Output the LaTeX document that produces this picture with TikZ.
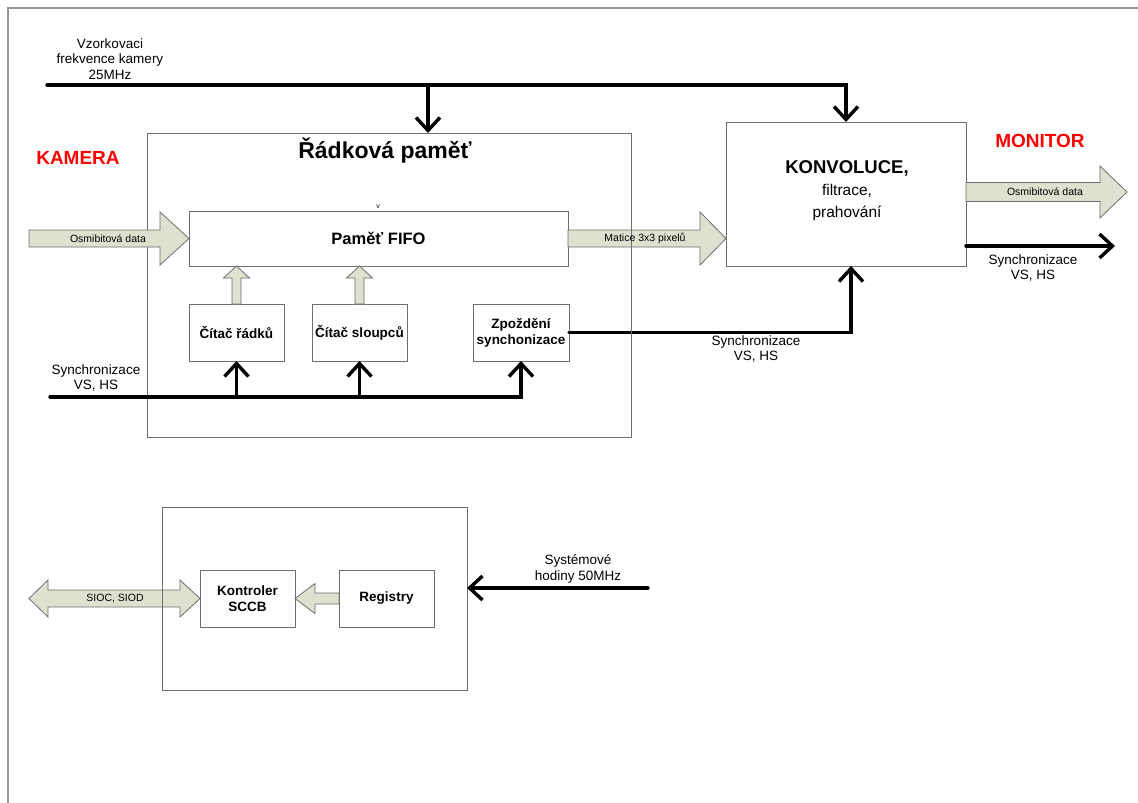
\documentclass[tikz,border=0pt]{standalone}
\usepackage{fontspec}
\setmainfont{Liberation Sans}
\usetikzlibrary{arrows.meta,calc}
\definecolor{fatfill}{RGB}{221,225,207}
\definecolor{boxgray}{RGB}{110,110,110}
\definecolor{pagegray}{RGB}{150,150,150}
\tikzset{
  box/.style={draw=boxgray, line width=0.9pt, fill=white, inner sep=0pt, outer sep=0pt, align=center, font=\bfseries\fontsize{13.5}{16}\selectfont},
  boxline/.style={draw=boxgray, line width=0.9pt, line cap=rect},
  sigline/.style={line width=3.4pt, line cap=round, line join=miter},
  sig/.style={sigline, -{Straight Barb[length=13pt,width=24pt]}},
  fatstyle/.style={draw=boxgray, fill=fatfill, line width=0.8pt, line join=miter},
  lbl/.style={align=center, font=\fontsize{13.5}{15.5}\selectfont, inner sep=0pt},
  smalllbl/.style={font=\fontsize{10.5}{12}\selectfont, inner sep=0pt},
  redlbl/.style={text=red, font=\bfseries\fontsize{19}{21}\selectfont, inner sep=0pt},
}
% fat arrow: #1 tail, #2 tip, #3 shaft half width, #4 head half width, #5 head length
\newcommand\fatarr[5]{%
  \coordinate (fH) at ($(#2)!#5!(#1)$);
  \draw[fatstyle] ($(#1)!#3!90:(#2)$) -- ($(fH)!#3!90:(#2)$) -- ($(fH)!#4!90:(#2)$) -- (#2)
    -- ($(fH)!#4!-90:(#2)$) -- ($(fH)!#3!-90:(#2)$) -- ($(#1)!#3!-90:(#2)$) -- cycle;
}
\begin{document}
\begin{tikzpicture}[x=1pt,y=-1pt]
\useasboundingbox (0,0) rectangle (1138,803);
% page border
\draw[pagegray, line width=2pt] (8,803) -- (8,8) -- (1138,8);

% boxes
\node[box, minimum width=484pt, minimum height=304pt] (radk) at (389,285) {};
\node[inner sep=0pt, font=\bfseries\fontsize{23}{26}\selectfont] (radkt) at (385,151) {Řádková paměť};
\node[box, minimum width=379pt, minimum height=55pt, font=\bfseries\fontsize{16.5}{19}\selectfont] (fifo) at (378.5,238.5) {Paměť FIFO};
\node[inner sep=0pt, font=\fontsize{7}{8}\selectfont] (vmark) at (378,207) {v};
\node[box, minimum width=240pt, minimum height=144pt] (konv) at (846,194) {};
\node[inner sep=0pt, align=center, font=\fontsize{15.5}{22}\selectfont] (konvt) at (847,191)
  {{\bfseries\fontsize{18.5}{22}\selectfont KONVOLUCE,}\\filtrace,\\prahování};
\node[box, minimum width=95pt, minimum height=57pt] (citr) at (236.5,332.5) {Čítač řádků};
\node[box, minimum width=95pt, minimum height=57pt] (cits) at (359.5,332.5) {Čítač sloupců};
\node[box, minimum width=96pt, minimum height=57pt] (zpoz) at (521,332.5) {Zpoždění\\synchonizace};
\node[box, minimum width=305pt, minimum height=183pt] (sccbbox) at (314.5,598.5) {};
\node[box, minimum width=95pt, minimum height=57pt] (kontr) at (247.5,598.5) {Kontroler\\SCCB};
\node[box, minimum width=95pt, minimum height=57pt] (reg) at (386.5,598.5) {Registry};

% red labels
\node[redlbl] (kamera) at (78,158) {KAMERA};
\node[redlbl] (monitor) at (1040,141) {MONITOR};

% clock line
\node[lbl] (clklbl) at (110,59) {Vzorkovaci\\frekvence kamery\\25MHz};
\coordinate (clkL) at (47,85);
\coordinate (clkB) at (428,85);
\draw[sig] (clkL) -| (konv.north);
\draw[sig] (clkB) -- (clkB |- radk.north);

% sync input line
\node[lbl] (synclbl) at (96,378) {Synchronizace\\VS, HS};
\coordinate (syncL) at (50,397);
\draw[sig] (syncL) -| (zpoz.south);
\draw[sig] (citr.south |- syncL) -- (citr.south);
\draw[sig] (cits.south |- syncL) -- (cits.south);

% delayed sync to convolution
\coordinate (konvS) at ($(konv.south)+(5,0)$);
\draw[sig] (zpoz.east) -| (konvS);
\node[lbl] (sync2lbl) at (756,349) {Synchronizace\\VS, HS};

% sync output
\coordinate (syncOutL) at (966,246);
\coordinate (syncOutR) at (1115,246);
\draw[sig] (syncOutL) -- (syncOutR);
\node[lbl] (sync3lbl) at (1033,268) {Synchronizace\\VS, HS};

% system clock
\coordinate (sysR) at (648,588);
\draw[sig] (sysR) -- (sysR -| sccbbox.east);
\node[lbl] (syslbl) at (578,569) {Systémové\\hodiny 50MHz};

% fat arrows
\coordinate (matT) at (konv.west |- fifo.east);
\fatarr{fifo.east}{matT}{8.5pt}{26.5pt}{26pt}
\draw[boxline] (radk.north east) -- (radk.south east);
\node[smalllbl] (matlbl) at (645,238.5) {Matice 3x3 pixelů};

\coordinate (inT) at (29,238.5);
\fatarr{inT}{fifo.west}{8.5pt}{26.5pt}{29pt}
\node[smalllbl] (inlbl) at (108,238.5) {Osmibitová data};

\coordinate (outT) at (1127,192);
\coordinate (outS) at (konv.east |- outT);
\fatarr{outS}{outT}{9.5pt}{26pt}{27pt}
\node[smalllbl] (outlbl) at (1045,192) {Osmibitová data};

\fatarr{citr.north}{citr.north |- fifo.south}{4.5pt}{13pt}{12pt}
\fatarr{cits.north}{cits.north |- fifo.south}{4.5pt}{13pt}{12pt}
\fatarr{reg.west}{kontr.east}{5.5pt}{15pt}{20pt}

% double fat arrow
\coordinate (dL) at (29,598.5);
\coordinate (dR) at (kontr.west);
\draw[fatstyle] (dL) -- (48,580) -- (48,590) -- (180,590) -- (180,580) -- (dR)
  -- (180,617) -- (180,607) -- (48,607) -- (48,617) -- cycle;
\draw[boxline] (sccbbox.north west) -- (sccbbox.south west);
\node[smalllbl] (sioclbl) at (115,598) {SIOC, SIOD};
\end{tikzpicture}
\end{document}
